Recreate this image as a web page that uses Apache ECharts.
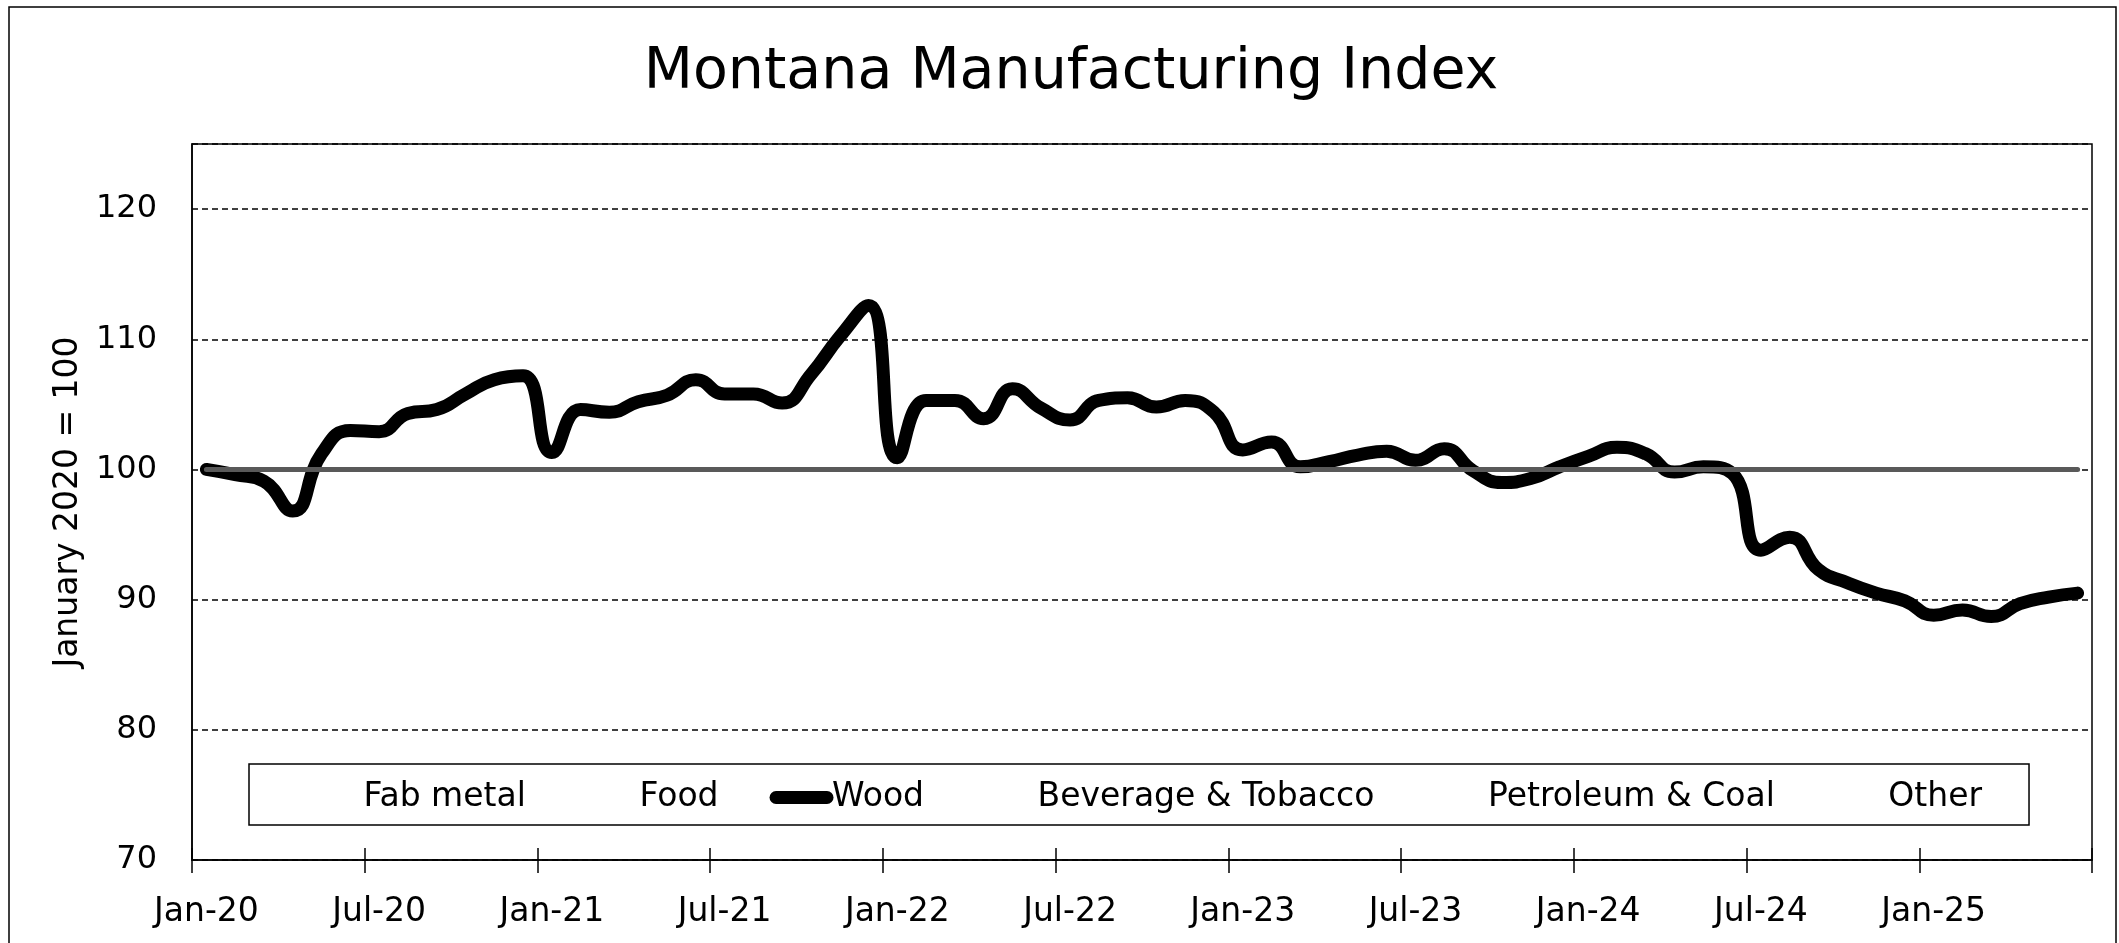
<!DOCTYPE html>
<html>
<head>
<meta charset="utf-8">
<script src="https://cdn.jsdelivr.net/npm/echarts@6/dist/echarts.min.js"></script>
<style>
html,body{margin:0;padding:0;background:#fff;}
#chart{width:2119px;height:943px;}
</style>
</head>
<body>
<div id="chart"></div>
<script>
const categories = [
 'Jan-20','Feb-20','Mar-20','Apr-20','May-20','Jun-20','Jul-20','Aug-20','Sep-20','Oct-20','Nov-20','Dec-20',
 'Jan-21','Feb-21','Mar-21','Apr-21','May-21','Jun-21','Jul-21','Aug-21','Sep-21','Oct-21','Nov-21','Dec-21',
 'Jan-22','Feb-22','Mar-22','Apr-22','May-22','Jun-22','Jul-22','Aug-22','Sep-22','Oct-22','Nov-22','Dec-22',
 'Jan-23','Feb-23','Mar-23','Apr-23','May-23','Jun-23','Jul-23','Aug-23','Sep-23','Oct-23','Nov-23','Dec-23',
 'Jan-24','Feb-24','Mar-24','Apr-24','May-24','Jun-24','Jul-24','Aug-24','Sep-24','Oct-24','Nov-24','Dec-24',
 'Jan-25','Feb-25','Mar-25','Apr-25','May-25','Jun-25'
];
const wood = [
 100.0, 99.6, 99.1, 96.8, 101.2, 103.0, 102.9, 104.3, 104.6, 105.8, 106.9, 107.2,
 101.3, 104.6, 104.4, 105.2, 105.7, 106.9, 105.8, 105.8, 105.1, 107.3, 110.2, 112.6,
 100.9, 105.3, 105.3, 103.9, 106.2, 104.7, 103.8, 105.3, 105.5, 104.8, 105.3, 104.4,
 101.5, 102.1, 100.2, 100.6, 101.1, 101.4, 100.7, 101.6, 99.9, 99.0, 99.3, 100.2,
 101.0, 101.7, 101.2, 99.8, 100.2, 99.7, 93.8, 94.8, 92.3, 91.3, 90.5, 89.9,
 88.8, 89.2, 88.7, 89.7, 90.2, 90.5
];
const baseline = [
 100,100,100,100,100,100,100,100,100,100,100,100,
 100,100,100,100,100,100,100,100,100,100,100,100,
 100,100,100,100,100,100,100,100,100,100,100,100,
 100,100,100,100,100,100,100,100,100,100,100,100,
 100,100,100,100,100,100,100,100,100,100,100,100,
 100,100,100,100,100,100
];
const legendNames = ['Fab metal','Food','Wood','Beverage & Tobacco','Petroleum & Coal','Other'];
const yTicks = {min: 70, max: 125, interval: 10};

const FONT = "'DejaVu Sans', Verdana, sans-serif";
const chart = echarts.init(document.getElementById('chart'), null, {renderer: 'canvas'});

const hidden = name => ({
  name: name, type: 'line', data: [], symbol: 'none',
  itemStyle: {color: 'rgba(0,0,0,0)'},
  lineStyle: {color: 'rgba(0,0,0,0)', width: 0}
});

const option = {
  backgroundColor: '#fff',
  animation: false,
  graphic: [{
    type: 'rect', silent: true, z: -10,
    shape: {x: 9, y: 7, width: 2107, height: 1100},
    style: {fill: 'none', stroke: '#000', lineWidth: 1.5}
  }],
  title: {
    text: 'Montana Manufacturing Index',
    left: 1066, top: 40, textAlign: 'center',
    textStyle: {fontFamily: FONT, fontSize: 57, fontWeight: 'normal', color: '#000'}
  },
  grid: {
    left: 192, right: 27, top: 144, bottom: 83,
    show: true, borderColor: '#000', borderWidth: 1.5, backgroundColor: 'transparent'
  },
  legend: {
    data: legendNames,
    left: 249, top: 764,
    itemWidth: 51, itemHeight: 14, itemGap: 51,
    padding: [17, 47, 11, 52],
    borderColor: '#000', borderWidth: 1.5,
    selectedMode: false,
    textStyle: {fontFamily: FONT, fontSize: 33, color: '#000'},
    lineStyle: {width: 13, cap: 'round'}
  },
  xAxis: [{
    type: 'category', data: categories, boundaryGap: true,
    axisLine: {show: true, lineStyle: {color: '#000', width: 1.5}},
    axisTick: {show: true, interval: 5, length: 13, inside: false, lineStyle: {color: '#000', width: 1.5}},
    axisLabel: {interval: 5, margin: 36, fontFamily: FONT, fontSize: 33, color: '#000'},
    splitLine: {show: false}
  }, {
    type: 'category', data: categories, boundaryGap: true, position: 'bottom',
    axisLine: {show: false},
    axisTick: {show: true, interval: 5, length: 12, inside: true, lineStyle: {color: '#000', width: 1.5}},
    axisLabel: {show: false},
    splitLine: {show: false}
  }],
  yAxis: {
    type: 'value', min: yTicks.min, max: yTicks.max, interval: yTicks.interval,
    name: 'January 2020 = 100', nameLocation: 'middle', nameGap: 106,
    nameTextStyle: {fontFamily: FONT, fontSize: 33, color: '#000'},
    axisLine: {show: true, lineStyle: {color: '#000', width: 1.5}},
    axisTick: {show: false},
    axisLabel: {margin: 35, fontFamily: FONT, fontSize: 32, color: '#000', showMaxLabel: false},
    splitLine: {show: true, lineStyle: {color: '#000', width: 1.5, type: [6, 4]}}
  },
  series: [
    hidden('Fab metal'),
    hidden('Food'),
    {
      name: 'Wood', type: 'line', data: wood, xAxisIndex: 0,
      smooth: 0.5, symbol: 'none', z: 3,
      itemStyle: {color: '#000'},
      lineStyle: {color: '#000', width: 13, cap: 'round', join: 'round'}
    },
    hidden('Beverage & Tobacco'),
    hidden('Petroleum & Coal'),
    hidden('Other'),
    {
      name: 'Base', type: 'line', data: baseline, xAxisIndex: 0,
      symbol: 'none', z: 4, silent: true,
      itemStyle: {color: '#595959'},
      lineStyle: {color: '#595959', width: 5, cap: 'round'}
    }
  ]
};
chart.setOption(option);
</script>
</body>
</html>
